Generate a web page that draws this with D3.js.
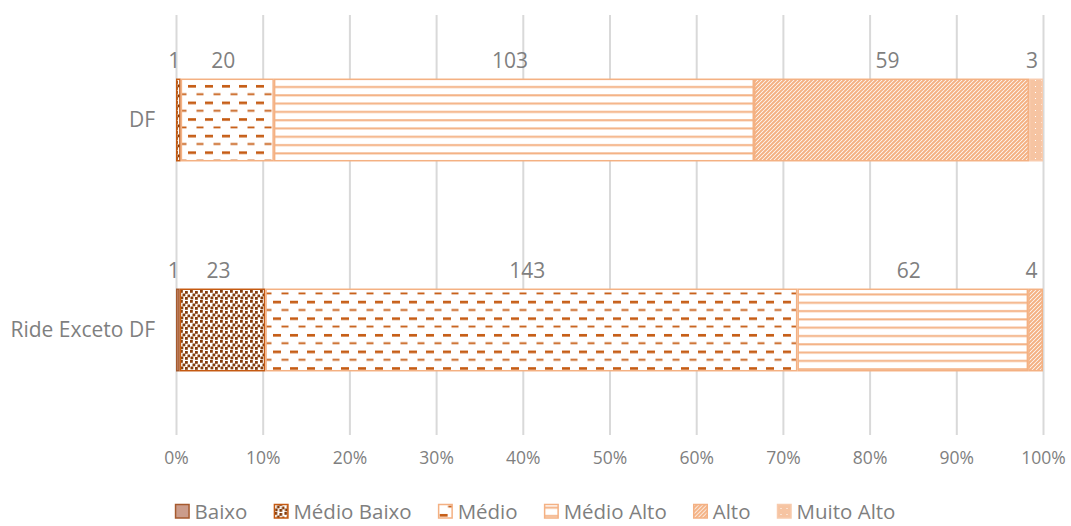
<!DOCTYPE html>
<html>
<head>
<meta charset="utf-8">
<script src="https://cdn.jsdelivr.net/npm/d3@7"></script>
<style>
  html, body { margin: 0; padding: 0; background: #fff; }
  svg text { font-family: "Open Sans", sans-serif; }
</style>
</head>
<body>
<svg id="chart" width="1071" height="526"></svg>
<script>
// Regions shown as bars (top to bottom)
const regions = ["DF", "Ride Exceto DF"];
// Classes stacked left to right
const classes = ["Baixo", "Médio Baixo", "Médio", "Médio Alto", "Alto", "Muito Alto"];
// Counts per class, in the order of `regions`
const baixo      = [0, 1];
const medioBaixo = [1, 23];
const medio      = [20, 143];
const medioAlto  = [103, 62];
const alto       = [59, 4];
const muitoAlto  = [3, 0];
// Axis ticks (share of total)
const tickValues = [0, 0.1, 0.2, 0.3, 0.4, 0.5, 0.6, 0.7, 0.8, 0.9, 1.0];

const seriesValues = [baixo, medioBaixo, medio, medioAlto, alto, muitoAlto];

const rows = regions.map((r, i) => {
  const row = { region: r };
  classes.forEach((c, k) => row[c] = seriesValues[k][i]);
  row.total = d3.sum(classes, c => row[c]);
  return row;
});

const svg = d3.select("#chart");
const plotL = 176, plotR = 1043, plotT = 15, plotB = 435;

const x = d3.scaleLinear().domain([0, 1]).range([plotL, plotR]);
const y = d3.scaleBand().domain(regions).range([plotT, plotB])
  .paddingInner(0.605).paddingOuter(0.3025);

// Fill patterns for each class
const defs = svg.append("defs");

// Médio Baixo: dark brown confetti squares
defs.append("pattern").attr("id", "p-mbaixo").attr("patternUnits", "userSpaceOnUse")
  .attr("width", 10).attr("height", 10)
  .call(p => {
    p.append("rect").attr("width", 10).attr("height", 10).attr("fill", "#fff");
    const pts = [[0, 0], [5, 1], [2.5, 3.5], [7.5, 4.5], [0.5, 6.5], [5, 7]];
    pts.forEach(([a, b]) => p.append("rect").attr("x", a).attr("y", b)
      .attr("width", 2.8).attr("height", 2.8).attr("fill", "#843c0c"));
  });

// Médio: staggered horizontal dashes
defs.append("pattern").attr("id", "p-medio").attr("patternUnits", "userSpaceOnUse")
  .attr("width", 17).attr("height", 16.6)
  .call(p => {
    p.append("rect").attr("width", 17).attr("height", 16.6).attr("fill", "#fff");
    p.append("rect").attr("x", 1).attr("y", 2).attr("width", 8).attr("height", 2.6).attr("fill", "#c55a11");
    p.append("rect").attr("x", 9.5).attr("y", 10.3).attr("width", 7).attr("height", 1.8).attr("fill", "#c55a11");
  });

// Médio Alto: horizontal lines
defs.append("pattern").attr("id", "p-malto").attr("patternUnits", "userSpaceOnUse")
  .attr("width", 10).attr("height", 8.3)
  .call(p => {
    p.append("rect").attr("width", 10).attr("height", 8.3).attr("fill", "#fff");
    p.append("rect").attr("y", 3).attr("width", 10).attr("height", 2).attr("fill", "#f4b183");
  });

// Alto: dense forward diagonals
defs.append("pattern").attr("id", "p-alto").attr("patternUnits", "userSpaceOnUse")
  .attr("width", 4).attr("height", 4)
  .call(p => {
    p.append("rect").attr("width", 4).attr("height", 4).attr("fill", "#fff");
    p.append("path").attr("d", "M-1,1 L1,-1 M0,4 L4,0 M3,5 L5,3")
      .attr("stroke", "#f4b183").attr("stroke-width", 2);
  });

// Muito Alto: light peach with small white dots
defs.append("pattern").attr("id", "p-muito").attr("patternUnits", "userSpaceOnUse")
  .attr("width", 6).attr("height", 6)
  .call(p => {
    p.append("rect").attr("width", 6).attr("height", 6).attr("fill", "#f6c4a2");
    p.append("rect").attr("x", 3).attr("y", 2).attr("width", 1).attr("height", 1).attr("fill", "#fff");
  });

const fills = d3.scaleOrdinal().domain(classes)
  .range(["#cb9c8b", "url(#p-mbaixo)", "url(#p-medio)", "url(#p-malto)", "url(#p-alto)", "url(#p-muito)"]);
const strokes = d3.scaleOrdinal().domain(classes)
  .range(["#a65a2e", "#c55a11", "#f4b183", "#f4b183", "#f4b183", "#f8cbad"]);

// Vertical gridlines and percentage ticks
const xAxis = d3.axisBottom(x).tickValues(tickValues).tickFormat(d3.format(".0%"))
  .tickSize(-(plotB - plotT)).tickPadding(23);
const gx = svg.append("g").attr("transform", `translate(0,${plotB})`).call(xAxis);
gx.select(".domain").remove();
gx.selectAll(".tick line").attr("stroke", "#d9d9d9").attr("stroke-width", 2);
gx.selectAll(".tick text").attr("fill", "#7f7f7f").style("font-size", "17.5px")
  .attr("dy", "0.32em");

// Category labels
svg.append("g").selectAll("text").data(regions).join("text")
  .attr("x", plotL - 21).attr("y", d => y(d) + y.bandwidth() / 2)
  .attr("dy", "0.35em").attr("text-anchor", "end")
  .attr("fill", "#7f7f7f").style("font-size", "21px")
  .text(d => d);

// Stacked shares
const stack = d3.stack().keys(classes)
  .value((d, key) => d[key] / d.total);
const layers = stack(rows);

const segG = svg.append("g");
layers.forEach(layer => {
  const key = layer.key;
  layer.forEach((seg, i) => {
    const row = rows[i];
    if (row[key] === 0) return;
    segG.append("rect")
      .attr("x", x(seg[0]) + 0.75)
      .attr("y", y(row.region) + 0.75)
      .attr("width", Math.max(0, x(seg[1]) - x(seg[0]) - 1.5))
      .attr("height", y.bandwidth() - 1.5)
      .attr("fill", fills(key))
      .attr("stroke", strokes(key))
      .attr("stroke-width", 1.5);
  });
});

// Value labels above each segment
const labelG = svg.append("g");
layers.forEach(layer => {
  const key = layer.key;
  layer.forEach((seg, i) => {
    const row = rows[i];
    if (row[key] === 0) return;
    labelG.append("text")
      .attr("x", (x(seg[0]) + x(seg[1])) / 2 - 4)
      .attr("y", y(row.region) - 11)
      .attr("text-anchor", "middle")
      .attr("fill", "#7f7f7f").style("font-size", "21px")
      .text(row[key]);
  });
});

// Legend, centred under the plot
const legend = svg.append("g");
const items = legend.selectAll("g").data(classes).join("g");
items.append("rect").attr("width", 13.5).attr("height", 13.5).attr("y", -7.5)
  .attr("fill", d => fills(d)).attr("stroke", d => strokes(d)).attr("stroke-width", 1.5);
items.append("text").attr("x", 19).attr("dy", "0.35em")
  .attr("fill", "#7f7f7f").style("font-size", "20.5px").text(d => d);
let cx = 0;
items.each(function () {
  const w = d3.select(this).select("text").node().getComputedTextLength();
  d3.select(this).attr("transform", `translate(${cx},0)`);
  cx += 19 + w + 27;
});
const legendWidth = cx - 27;
legend.attr("transform", `translate(${535.5 - legendWidth / 2},512)`);
</script>
</body>
</html>
